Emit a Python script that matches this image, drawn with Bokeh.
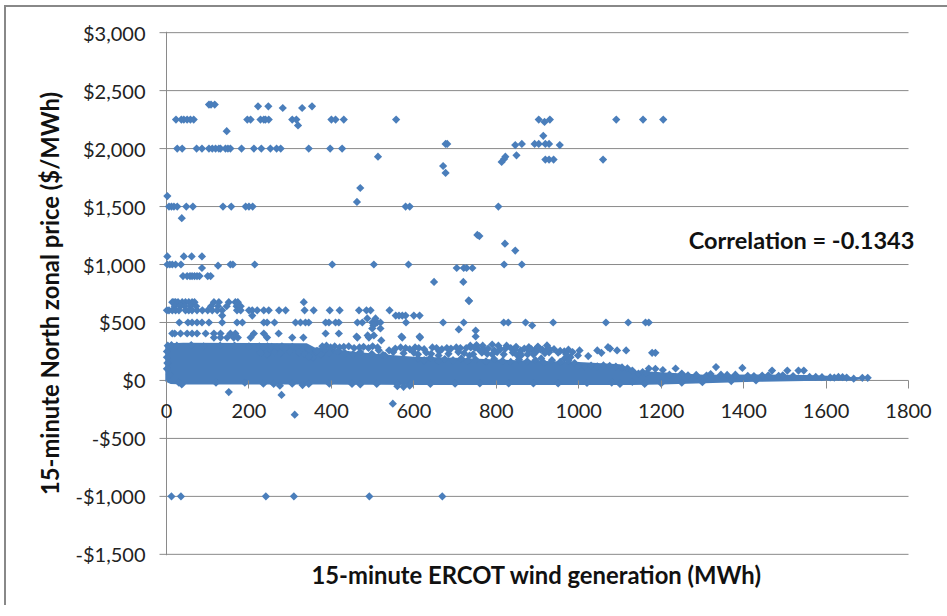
from bokeh.plotting import figure
from bokeh.models import Range1d, NumeralTickFormatter, FixedTicker, Title, Label
from bokeh.embed import file_html
from bokeh.resources import INLINE

x_ticks = [0, 200, 400, 600, 800, 1000, 1200, 1400, 1600, 1800]
y_ticks = [-1500, -1000, -500, 0, 500, 1000, 1500, 2000, 2500, 3000]

# price tiers: (price, wind generation values)
tiers = [
    (2380, [103, 108, 117]),
    (2365, [222, 247, 353]),
    (2350, [282, 329]),
    (2250, [23, 36, 42, 50, 58, 66, 196, 204, 228, 236, 240, 248, 305, 315, 400, 410, 430, 557, 903, 930, 1091, 1156, 1205]),
    (2040, [677, 681, 862, 893, 903, 919, 928]),
    (2000, [26, 38, 73, 86, 103, 111, 119, 127, 131, 143, 149, 155, 182, 212, 230, 252, 267, 277, 345, 397, 426]),
    (1905, [919, 928, 939, 1059]),
    (1500, [6, 12, 18, 26, 48, 64, 137, 157, 192, 200, 209, 580, 590, 805]),
    (1000, [2, 8, 14, 22, 35, 155, 161, 214, 402, 503, 587, 819, 862]),
    (1070, [2, 42, 61, 86]),
    (970, [86, 704, 721, 728, 742]),
    (900, [40, 50, 57, 62, 68, 74, 80, 100, 107]),
    (850, [649, 720]),
    (675, [14, 18, 22, 28, 38, 46, 54, 62, 68, 115, 127, 151, 167, 173, 333]),
    (640, [20, 34, 44, 58, 72, 108, 125, 146, 170, 180]),
    (605, [1, 6, 14, 22, 30, 46, 54, 62, 74, 87, 100, 111, 123, 135, 171, 180, 200, 208, 220, 236, 248, 273, 289, 335, 357, 396, 420, 467, 485, 495, 541]),
    (560, [135, 208, 556, 564, 572, 580, 600, 614]),
    (500, [31, 52, 62, 74, 86, 103, 135, 171, 184, 236, 244, 262, 313, 325, 337, 345, 386, 394, 410, 418, 463, 475, 499, 511, 519, 581, 671, 721, 818, 829, 871, 938, 1066, 1120, 1162, 1170]),
    (405, [14, 20, 34, 50, 62, 74, 95, 115, 131, 155, 167, 212, 236, 272, 386, 418]),
    (370, [115, 131, 147, 163, 173, 204, 244, 305, 332, 463, 491, 572, 615]),
]
lone_x = [319, 146, 917, 914, 846, 954, 849, 822, 819, 813, 513, 470, 462, 671, 677, 2, 37, 754, 759, 821, 846, 125, 734, 733, 709, 750,
          487, 507, 502, 499, 519, 461, 488, 503, 521, 570, 614, 750, 887, 859, 879, 879, 893, 901, 907, 923, 930, 928, 909,
          965, 980, 998, 1002, 1023, 1045, 1055, 1071, 1076, 1093, 1115, 1178, 1186, 737, 752, 767, 790, 805, 825, 848,
          151, 279, 311, 549, 37, 275, 330, 560, 575, 590]
lone_y = [2200, 2150, 2230, 2110, 2030, 2030, 1942, 1930, 1910, 1885, 1930, 1660, 1540, 1850, 1790, 1590, 1400, 1255, 1245, 1180, 1120, 990, 685, 690, 440, 430,
          535, 535, 474, 448, 448, 379, 388, 388, 345, 379, 379, 379, 474, 259, 287, 258, 259, 293, 267, 302, 267, 243, 190,
          187, 200, 215, 259, 210, 259, 238, 287, 275, 259, 259, 238, 238, 300, 305, 300, 310, 300, 300, 290,
          -100, -125, -295, -200, -35, -45, -40, -50, -55, -45]
neg_x = [12, 35, 241, 309, 492, 669]
neg_y = [-1000, -1000, -1000, -1000, -1000, -1000]

# loose rows of points above the solid part of the cloud
upper_x = [225, 235, 245, 255, 268, 280, 290, 305, 318, 330, 345, 378, 388, 398, 408, 420, 430, 442, 455, 468, 478, 490, 500, 512, 540, 555, 568, 580, 590, 603, 612, 625, 645, 655, 668, 680, 690, 703, 713, 727, 738, 748, 757, 770, 780, 795, 810, 822, 835, 845, 868, 885, 900, 912, 925, 940, 955, 965, 975, 985,
           228, 244, 262, 276, 300, 322, 352, 362, 375, 395, 415, 433, 452, 470, 498, 525, 550, 575, 610, 630, 642, 662, 684, 708, 722, 744, 765, 778, 802, 818, 840, 858, 876, 896, 918, 950, 970,
           355, 365, 335, 345, 515, 530, 600, 660, 735, 790, 850, 860, 890,
           610, 625, 640, 660, 675, 695, 715, 730, 750, 775, 795, 815, 835, 855, 875, 895, 915, 935, 955, 975, 990]
upper_y = [295, 285, 295, 290, 285, 295, 280, 290, 275, 265, 270, 295, 300, 285, 295, 285, 290, 295, 280, 285, 290, 280, 295, 285, 260, 275, 285, 280, 270, 285, 280, 270, 285, 280, 270, 280, 275, 285, 280, 280, 285, 280, 270, 265, 275, 260, 270, 275, 280, 265, 275, 270, 285, 265, 275, 270, 255, 250, 265, 245,
           240, 225, 245, 235, 250, 240, 230, 245, 225, 235, 250, 235, 225, 245, 230, 220, 245, 235, 225, 240, 230, 250, 230, 245, 235, 225, 240, 230, 245, 225, 240, 235, 225, 245, 235, 240, 225,
           200, 255, 230, 205, 260, 215, 240, 215, 215, 225, 220, 215, 225,
           190, 175, 195, 170, 185, 175, 190, 170, 180, 165, 185, 170, 160, 180, 165, 175, 155, 175, 160, 170, 150]

# outline of the solid part of the cloud
band_x = [-3, 10, 40, 340, 360, 380, 450, 520, 600, 700, 800, 900, 1000, 1100, 1130, 1200, 1305, 1427, 1549, 1590, 1662, 1700]
band_top = [300, 320, 325, 320, 285, 285, 250, 225, 205, 195, 180, 170, 160, 140, 85, 70, 50, 52, 48, 42, 30, 28]
band_bottom = [-10, -30, -35, -35, -35, -35, -38, -38, -40, -40, -40, -40, -40, -40, -40, -35, -25, -12, -5, -2, 0, 15]
edge_x = [3, 12, 25, 60, 90, 130, 165, 200, 1, 1, 2, 1, 8, 30, 120, 190, 235, 260, 305, 345, 395, 450, 470, 510, 560, 590, 640, 700, 760, 830, 890, 950, 1020, 1080, 1130, 1170, 1186, 1204, 1235, 1333, 1397, 1469, 1506, 1533, 1546, 1620, 1640, 1667, 1688, 1701,
          1000, 1015, 1030, 1045, 1060, 1075, 1090, 1105, 1118, 1130, 1145, 1155, 1165, 1220, 1250, 1265, 1285, 1310, 1320, 1345, 1360, 1380, 1410, 1425, 1445, 1460, 1485, 1495, 1520, 1560, 1575, 1590, 1610, 1630, 1650,
          1100, 1160, 1200, 1250, 1300, 1370, 1430]
edge_y = [300, 305, 300, 305, 295, 300, 300, 295, 250, 200, 150, 100, 50, -20, -20, -20, -28, -30, -28, -30, -28, -30, -35, -30, -30, -38, -30, -28, -26, -26, -26, -26, -22, -18, -12, 103, 100, 90, 103, 115, 108, 85, 85, 85, 85, 25, 28, 15, 23, 23,
          125, 118, 128, 122, 130, 125, 120, 112, 105, 85, 60, 72, 65, 50, 60, 45, 48, 42, 55, 50, 48, 50, 40, 38, 42, 45, 40, 45, 38, 30, 30, 28, 26, 30, 25,
          -30, -30, -25, -20, -15, -5, 0]
band_color = "#4a7ebb"
axis_color = "#8a8a8a"
tick_label_y = -267
grid_start = -17

tier_x = [v for _, xs in tiers for v in xs]
tier_y = [price for price, xs in tiers for _ in xs]

p = figure(width=941, height=609, frame_width=788, frame_height=524,
           x_range=Range1d(-34, 1877.6), y_range=Range1d(-1510, 3010),
           output_backend="svg", toolbar_location=None,
           min_border_left=146, min_border_right=7, min_border_top=24, min_border_bottom=50,
           background_fill_color="white", border_fill_color="white",
           styles={"margin-left": "4px", "margin-top": "5px",
                   "border-left": "2px solid #888888", "border-top": "2px solid #888888"})
p.outline_line_color = None

p.xgrid.ticker = FixedTicker(ticks=[0])
p.xgrid.grid_line_color = axis_color
p.ygrid.visible = False

p.xaxis.ticker = FixedTicker(ticks=x_ticks)
p.xaxis.fixed_location = 0
p.xaxis.minor_tick_line_color = None
p.xaxis.major_tick_out = 8
p.xaxis.major_tick_in = 0
p.xaxis.axis_line_color = None
p.xaxis.major_tick_line_color = axis_color
p.xaxis.major_label_text_color = None
p.xaxis.major_label_text_font_size = "1px"

p.yaxis.ticker = FixedTicker(ticks=y_ticks)
p.yaxis.formatter = NumeralTickFormatter(format="$0,0")
p.yaxis.minor_tick_line_color = None
p.yaxis.major_tick_out = 0
p.yaxis.major_tick_in = 0
p.yaxis.major_tick_line_color = None
p.yaxis.axis_line_color = None
p.yaxis.major_label_text_font = "Lato"
p.yaxis.major_label_text_font_size = "20px"
p.yaxis.major_label_text_color = "#222222"
p.yaxis.major_label_standoff = 7
p.yaxis.axis_label = "15-minute North zonal price ($/MWh)"
p.yaxis.axis_label_text_font = "Lato"
p.yaxis.axis_label_text_font_style = "bold"
p.yaxis.axis_label_text_font_size = "23.8px"
p.yaxis.axis_label_text_color = "#111111"
p.yaxis.axis_label_standoff = 9

p.segment(x0=[grid_start] * len(y_ticks), x1=[x_ticks[-1]] * len(y_ticks), y0=y_ticks, y1=y_ticks,
          line_color=axis_color, line_width=1)
p.varea(x=band_x, y1=band_bottom, y2=band_top, fill_color=band_color)
all_x = tier_x + lone_x + neg_x + upper_x + edge_x
all_y = tier_y + lone_y + neg_y + upper_y + edge_y
p.scatter(all_x, all_y, marker="square", angle=0.785, size=5.8, fill_color=band_color, line_color=None)

for tick in x_ticks:
    p.add_layout(Label(x=tick, y=tick_label_y, text=str(tick), text_font="Lato", text_font_size="20px",
                       text_color="#222222", text_align="center", text_baseline="alphabetic"))

p.add_layout(Title(text="15-minute ERCOT wind generation (MWh)", align="left", offset=159,
                   text_font="Lato", text_font_style="bold", text_font_size="23.8px",
                   text_color="#111111", standoff=6), "below")
p.add_layout(Label(x=1267, y=1208, text="Correlation = -0.1343", text_font="Lato",
                   text_font_style="bold", text_font_size="23.5px", text_color="#111111",
                   text_baseline="alphabetic"))

open("out.html", "w").write(file_html(p, INLINE))
